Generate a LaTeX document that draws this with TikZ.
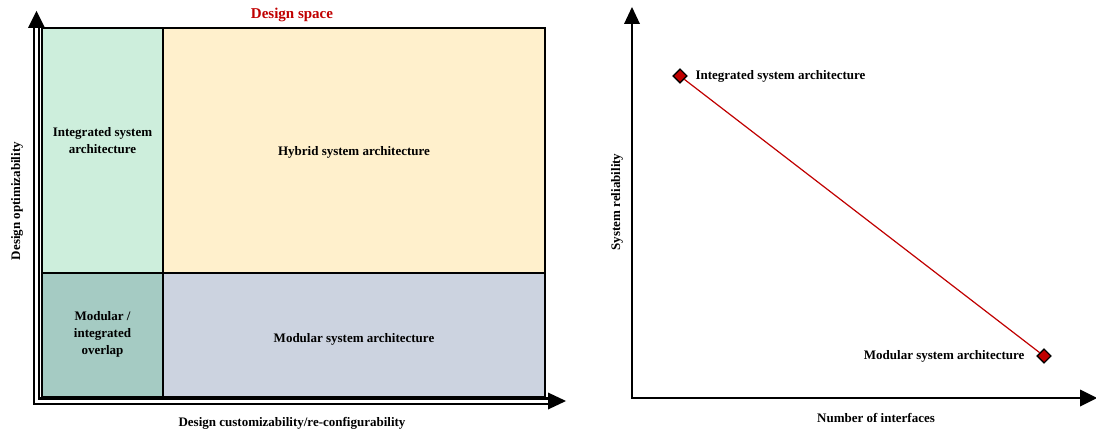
\documentclass[tikz,border=0pt]{standalone}
\usepackage{fontspec}
\setmainfont{Liberation Serif}
\usetikzlibrary{shapes.geometric}
\definecolor{cgreen}{HTML}{CDEEDC}
\definecolor{cyellow}{HTML}{FFF0CC}
\definecolor{cgray}{HTML}{CCD3E0}
\definecolor{cteal}{HTML}{A5CBC3}
\definecolor{cred}{HTML}{C00000}
\tikzset{
  lbl/.style={font=\bfseries\fontsize{13}{17}\selectfont, align=center, text=black},
  axlbl/.style={font=\bfseries\fontsize{13}{17}\selectfont},
  dbl/.style={line width=2.4pt, double=white, double distance=3pt},
  thick axis/.style={line width=2.8pt},
  head/.style={fill=black, draw=none},
  dia/.style={diamond, draw=black, fill=cred, line width=1.1pt, minimum size=14pt, inner sep=0pt},
}
\begin{document}
\begin{tikzpicture}[x=1pt, y=-1pt]
\useasboundingbox (0,0) rectangle (1096,433);
% ---------- left chart ----------
\fill[cgreen] (42,28) rectangle (163,273);
\fill[cyellow] (163,28) rectangle (545,273);
\fill[cteal] (42,273) rectangle (163,397);
\fill[cgray] (163,273) rectangle (545,397);
\draw[line width=1.4pt] (42,28) rectangle (545,397);
\draw[line width=1.4pt] (163,28) -- (163,397);
\draw[line width=1.4pt] (42,273) -- (545,273);
\node[lbl] (isa) at (102.5,141) {Integrated system\\architecture};
\node[lbl] (hsa) at (354,152) {Hybrid system architecture};
\node[lbl] (mio) at (102.5,334) {Modular /\\integrated\\overlap};
\node[lbl] (msa) at (354,339) {Modular system architecture};
\coordinate (ytop) at (36.5,27);
\coordinate (org) at (36.5,401);
\coordinate (xend) at (549,401);
\draw[dbl] (ytop) -- (org) -- (xend);
\fill[head] (36.5,11) -- (45,28) -- (28,28) -- cycle;
\fill[head] (566,401) -- (548,392.5) -- (548,409.5) -- cycle;
\node[font=\bfseries\fontsize{15}{17}\selectfont, text=cred] (ds) at (292,15) {Design space};
\node[axlbl, rotate=90] (yl) at (17,201) {Design optimizability};
\node[axlbl] (xl) at (292,423) {Design customizability/re-configurability};
% ---------- right chart ----------
\coordinate (o2) at (632,398);
\draw[thick axis] (632,24) -- (o2) -- (1082,398);
\fill[head] (632,7) -- (640,24) -- (624,24) -- cycle;
\fill[head] (1097,398) -- (1080,389.5) -- (1080,406.5) -- cycle;
\node[axlbl, rotate=90] (sr) at (617,202) {System reliability};
\node[axlbl] (ni) at (876,418) {Number of interfaces};
\node[dia] (d1) at (680,76) {};
\node[dia] (d2) at (1044,356) {};
\draw[cred, line width=1.2pt] (d1) -- (d2);
\node[dia] at (680,76) {};
\node[dia] at (1044,356) {};
\node[lbl, anchor=west] (l1) at (692,76) {Integrated system architecture};
\node[lbl, anchor=east] (l2) at (1028,356) {Modular system architecture};
\end{tikzpicture}
\end{document}
